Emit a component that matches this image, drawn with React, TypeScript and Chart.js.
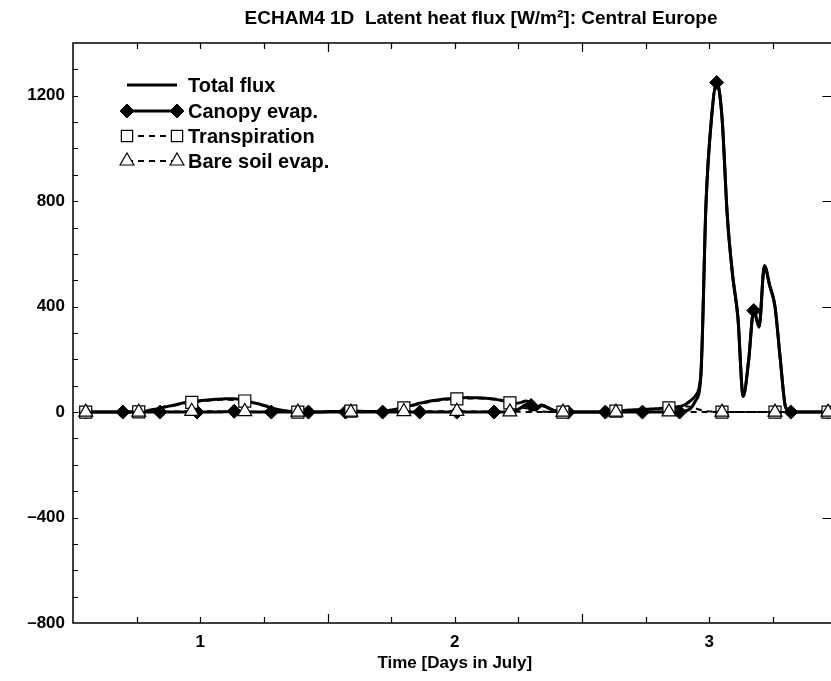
import React, { useEffect, useRef } from 'react';
import { Chart, registerables } from 'chart.js';
import { drawPoint } from 'chart.js/helpers';

Chart.register(...registerables);

const FONT = "'Liberation Sans', Arial, Helvetica, sans-serif";

const TITLE = 'ECHAM4 1D  Latent heat flux [W/m²]: Central Europe';
const X_AXIS_TITLE = 'Time [Days in July]';
const SERIES_NAMES = ['Total flux', 'Canopy evap.', 'Transpiration', 'Bare soil evap.'];

const X_RANGE = [0.5, 3.5];
const Y_RANGE = [-800, 1400];
const X_LABELS = [1, 2, 3];
const Y_LABELS = [-800, -400, 0, 400, 800, 1200];
const X_MINOR_STEP = 0.25;
const Y_MINOR_STEP = 100;

// half-hourly model output, first record at day 0.55
const START_DAY = 0.55;
const STEP_DAY = 1 / 48;

// latent heat flux components [W/m2], one value per half hour
const TOTAL_FLUX = [
  0, 0, 0, 0, 0, 0, 0, 0, 0, 0,
  1, 3, 7, 11, 15, 20, 24, 28, 33, 37,
  40, 42, 44, 46, 48, 49, 50, 51, 51, 48,
  45, 39, 34, 29, 23, 16, 11, 7, 4, 2,
  0, 0, 0, 0, 0, 1, 2, 2, 3, 3,
  4, 3, 3, 2, 2, 2, 3, 6, 9, 13,
  18, 23, 28, 34, 38, 42, 45, 48, 50, 52,
  53, 54, 55, 54, 54, 53, 52, 50, 46, 42,
  36, 34, 36, 42, 34, 18, 27, 19, 8, 3,
  0, 0, 0, 0, 0, 0, 0, 1, 2, 3,
  4, 5, 7, 8, 9, 10, 11, 12, 13, 15,
  17, 19, 21, 28, 42, 62, 140, 800, 1110, 1250,
  1120, 745, 520, 360, 60, 190, 390, 323, 555, 480,
  400, 200, 18, 0, 0, 0, 0, 0, 0, 0,
  0,
];

const CANOPY_EVAP = [
  0, 0, 0, 0, 0, 0, 0, 0, 0, 0,
  0, 0, 0, 0, 0, 0, 0, 0, 0, 0,
  0, 0, 0, 0, 0, 0, 1, 2, 3, 2,
  1, 0, 0, 0, 0, 0, 0, 0, 0, 0,
  0, 0, 0, 0, 0, 0, 0, 0, 0, 0,
  0, 0, 0, 0, 0, 0, 0, 0, 0, 0,
  0, 0, 0, 0, 0, 0, 0, 0, 0, 0,
  0, 0, 0, 0, 0, 0, 0, 0, 0, 0,
  0, 5, 15, 28, 25, 12, 24, 18, 8, 3,
  0, 0, 0, 0, 0, 0, 0, 0, 0, 0,
  0, 0, 0, 0, 0, 0, 0, 0, 0, 0,
  0, 0, 0, 4, 12, 42, 130, 795, 1108, 1250,
  1120, 745, 520, 360, 60, 190, 385, 323, 555, 480,
  400, 200, 18, 0, 0, 0, 0, 0, 0, 0,
  0,
];

const TRANSPIRATION = [
  0, 0, 0, 0, 0, 0, 0, 0, 0, 0,
  1, 3, 6, 10, 14, 18, 22, 26, 30, 34,
  37, 39, 41, 43, 45, 46, 47, 47, 46, 44,
  42, 38, 33, 28, 22, 16, 11, 7, 4, 2,
  0, 0, 0, 0, 0, 1, 2, 2, 3, 3,
  4, 3, 3, 2, 2, 2, 3, 5, 8, 12,
  16, 21, 26, 31, 35, 39, 42, 45, 47, 49,
  50, 51, 52, 52, 52, 51, 50, 48, 45, 41,
  35, 28, 20, 14, 9, 6, 3, 1, 0, 0,
  0, 0, 0, 0, 0, 0, 0, 1, 2, 3,
  4, 5, 6, 7, 8, 9, 10, 11, 12, 14,
  16, 18, 20, 22, 20, 14, 8, 4, 2, 1,
  0, 0, 0, 0, 0, 0, 0, 0, 0, 0,
  0, 0, 0, 0, 0, 0, 0, 0, 0, 0,
  0,
];

const BARE_SOIL_EVAP = [
  0, 0, 0, 0, 0, 0, 0, 0, 0, 0,
  0, 0, 1, 1, 1, 2, 2, 2, 3, 3,
  3, 3, 3, 3, 3, 3, 2, 2, 2, 2,
  2, 1, 1, 1, 1, 0, 0, 0, 0, 0,
  0, 0, 0, 0, 0, 0, 0, 0, 0, 0,
  0, 0, 0, 0, 0, 0, 0, 1, 1, 1,
  2, 2, 2, 3, 3, 3, 3, 3, 3, 3,
  3, 3, 3, 2, 2, 2, 2, 2, 1, 1,
  1, 1, 1, 0, 0, 0, 0, 0, 0, 0,
  0, 0, 0, 0, 0, 0, 0, 0, 0, 0,
  0, 0, 1, 1, 1, 1, 1, 1, 1, 1,
  1, 1, 1, 1, 0, 0, 0, 0, 0, 0,
  0, 0, 0, 0, 0, 0, 0, 0, 0, 0,
  0, 0, 0, 0, 0, 0, 0, 0, 0, 0,
  0,
];

const TIME = TOTAL_FLUX.map((_, i) => START_DAY + i * STEP_DAY);
const toPoints = (values: number[]) => values.map((y, i) => ({ x: TIME[i], y }));

const formatFlux = (v: number) => (v < 0 ? '\u2013' + Math.abs(v) : String(v));

// Box around the plot with inward tick marks on all four sides
const frameAndTicks = {
  id: 'frameAndTicks',
  beforeDatasetsDraw(chart: any) {
    const { ctx, chartArea: a, scales } = chart;
    const xs = scales.x;
    const ys = scales.y;
    ctx.save();
    ctx.strokeStyle = '#000';
    ctx.lineWidth = 1.2;
    ctx.beginPath();
    for (let v = Y_RANGE[0] + Y_MINOR_STEP; v < Y_RANGE[1]; v += Y_MINOR_STEP) {
      const py = Math.round(ys.getPixelForValue(v)) + 0.5;
      ctx.moveTo(a.left, py);
      ctx.lineTo(a.left + 5, py);
      if (v % 400 === 0) {
        ctx.moveTo(a.right, py);
        ctx.lineTo(a.right - 14, py);
      }
    }
    for (let v = X_RANGE[0] + X_MINOR_STEP; v < X_RANGE[1] - 1e-9; v += X_MINOR_STEP) {
      const px = Math.round(xs.getPixelForValue(v)) + 0.5;
      const len = Math.abs(v % 1 - 0.5) < 1e-6 ? 9 : 6;
      ctx.moveTo(px, a.bottom);
      ctx.lineTo(px, a.bottom - len);
      ctx.moveTo(px, a.top);
      ctx.lineTo(px, a.top + len);
    }
    ctx.stroke();
    ctx.lineWidth = 1.5;
    ctx.strokeRect(a.left, a.top, a.right - a.left, a.bottom - a.top);
    ctx.restore();
  },
};

// Title, axis title and the line-sample legend
const labelsAndLegend = {
  id: 'labelsAndLegend',
  afterDraw(chart: any) {
    const { ctx, chartArea: a } = chart;
    ctx.save();
    ctx.fillStyle = '#000';
    ctx.textBaseline = 'middle';
    ctx.textAlign = 'center';
    ctx.font = `bold 19px ${FONT}`;
    ctx.fillText(TITLE, 481, 19);
    ctx.font = `bold 17px ${FONT}`;
    ctx.fillText(X_AXIS_TITLE, (a.left + a.right) / 2, 663);

    const x0 = 127;
    const x1 = 177;
    const rowY = [85, 111, 136, 161];
    chart.data.datasets.forEach((ds: any, i: number) => {
      const y = rowY[i];
      ctx.save();
      ctx.strokeStyle = '#000';
      ctx.lineWidth = ds.borderWidth;
      ctx.setLineDash(ds.borderDash || []);
      ctx.beginPath();
      ctx.moveTo(x0, y);
      ctx.lineTo(x1, y);
      ctx.stroke();
      ctx.setLineDash([]);
      if (ds.legendMarker) {
        ctx.fillStyle = ds.pointBackgroundColor;
        ctx.strokeStyle = ds.pointBorderColor;
        ctx.lineWidth = ds.pointBorderWidth;
        const opts = { pointStyle: ds.pointStyle, radius: ds.legendMarker, borderWidth: ds.pointBorderWidth, rotation: 0 };
        drawPoint(ctx, opts, x0, y);
        drawPoint(ctx, opts, x1, y);
      }
      ctx.restore();
      ctx.fillStyle = '#000';
      ctx.textAlign = 'left';
      ctx.font = `bold 20px ${FONT}`;
      ctx.fillText(SERIES_NAMES[i], 188, y + 1);
    });
    ctx.restore();
  },
};

export default function App() {
  const canvasRef = useRef<HTMLCanvasElement | null>(null);

  useEffect(() => {
    const canvas = canvasRef.current;
    if (!canvas) return;
    const chart = new Chart(canvas, {
      type: 'line',
      data: {
        datasets: [
          {
            label: SERIES_NAMES[0],
            data: toPoints(TOTAL_FLUX),
            borderColor: '#000',
            borderWidth: 3,
            pointRadius: 0,
            order: 4,
          },
          {
            label: SERIES_NAMES[1],
            data: toPoints(CANOPY_EVAP),
            borderColor: '#000',
            borderWidth: 3,
            pointStyle: 'rectRot',
            pointRadius: (c: any) => (c.dataIndex % 7 === 0 ? 7 : 0),
            pointBackgroundColor: '#000',
            pointBorderColor: '#000',
            pointBorderWidth: 1,
            legendMarker: 7,
            order: 3,
          },
          {
            label: SERIES_NAMES[2],
            data: toPoints(TRANSPIRATION),
            borderColor: '#000',
            borderWidth: 2,
            borderDash: [6, 5],
            pointStyle: 'rect',
            pointRadius: (c: any) => (c.dataIndex % 10 === 0 ? 8.5 : 0),
            pointBackgroundColor: '#fff',
            pointBorderColor: '#000',
            pointBorderWidth: 1.2,
            legendMarker: 8,
            order: 2,
          },
          {
            label: SERIES_NAMES[3],
            data: toPoints(BARE_SOIL_EVAP),
            borderColor: '#000',
            borderWidth: 2,
            borderDash: [6, 5],
            pointStyle: 'triangle',
            pointRadius: (c: any) => (c.dataIndex % 10 === 0 ? 8 : 0),
            pointBackgroundColor: '#fff',
            pointBorderColor: '#000',
            pointBorderWidth: 1.2,
            legendMarker: 8,
            order: 1,
          },
        ] as any,
      },
      options: {
        animation: false,
        responsive: false,
        devicePixelRatio: 1,
        events: [],
        layout: { padding: { top: 43, right: 23.5, bottom: 0, left: 0 } },
        elements: { line: { cubicInterpolationMode: 'monotone' } },
        plugins: {
          legend: { display: false },
          tooltip: { enabled: false },
          title: { display: false },
        },
        scales: {
          x: {
            type: 'linear',
            min: X_RANGE[0],
            max: X_RANGE[1],
            grid: { display: false, drawTicks: false },
            border: { display: false },
            afterBuildTicks: (s: any) => {
              s.ticks = X_LABELS.map((value) => ({ value }));
            },
            afterFit: (s: any) => {
              s.height = 58;
            },
            ticks: {
              color: '#000',
              font: { family: FONT, size: 17, weight: 'bold' },
              padding: 9,
              maxRotation: 0,
              autoSkip: false,
              callback: (v: any) => String(v),
            },
          },
          y: {
            type: 'linear',
            min: Y_RANGE[0],
            max: Y_RANGE[1],
            grid: { display: false, drawTicks: false },
            border: { display: false },
            afterBuildTicks: (s: any) => {
              s.ticks = Y_LABELS.map((value) => ({ value }));
            },
            afterFit: (s: any) => {
              s.width = 73;
            },
            ticks: {
              color: '#000',
              font: { family: FONT, size: 17, weight: 'bold' },
              padding: 8,
              autoSkip: false,
              callback: (v: any) => formatFlux(Number(v)),
            },
          },
        },
      } as any,
      plugins: [frameAndTicks, labelsAndLegend],
    });
    return () => chart.destroy();
  }, []);

  return (
    <div
      style={{
        position: 'fixed',
        left: 0,
        top: 0,
        width: 831,
        height: 681,
        overflow: 'hidden',
        background: '#fff',
      }}
    >
      <canvas ref={canvasRef} width={860} height={681} style={{ display: 'block' }} />
    </div>
  );
}
